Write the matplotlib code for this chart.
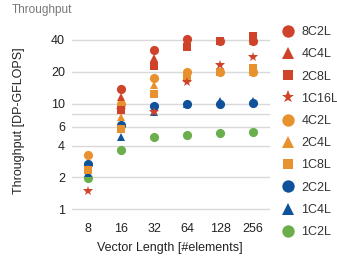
import numpy as np
import matplotlib.pyplot as plt

plt.rcParams['font.family'] = ['Liberation Sans', 'DejaVu Sans']

# --- data ---
vec_len = [8, 16, 32, 64, 128, 256]
nan = np.nan
series = {
    '8C2L':  [nan, 13.7, 32.0, 40.8, 39.5, 39.5],
    '4C4L':  [nan, 11.5, 26.8, 40.0, 39.5, 39.5],
    '2C8L':  [nan, 8.6, 22.8, 34.5, 39.5, 43.6],
    '1C16L': [1.47, 8.7, 8.4, 15.9, 23.2, 27.8],
    '4C2L':  [3.25, 9.9, 17.6, 20.0, 19.8, 20.0],
    '2C4L':  [2.4, 7.5, 15.0, 20.0, 19.8, 20.0],
    '1C8L':  [2.35, 5.8, 12.2, 17.3, 19.8, 21.6],
    '2C2L':  [2.65, 6.2, 9.5, 10.0, 10.0, 10.2],
    '1C4L':  [2.2, 4.8, 8.4, 10.0, 10.5, 10.6],
    '1C2L':  [1.97, 3.64, 4.86, 5.05, 5.24, 5.42],
}
y_ticks = [1, 2, 4, 6, 8, 10, 20, 40]
y_tick_labels = ['1', '2', '4', '6', '', '10', '20', '40']

red, orange, blue, green = '#d0432b', '#e8922f', '#10529a', '#6aaf4c'
styles = {
    '8C2L': (red, 'o', 6.6), '4C4L': (red, '^', 6.2), '2C8L': (red, 's', 5.2),
    '1C16L': (red, '*', 7.2), '4C2L': (orange, 'o', 6.6), '2C4L': (orange, '^', 6.2),
    '1C8L': (orange, 's', 5.2), '2C2L': (blue, 'o', 6.6), '1C4L': (blue, '^', 6.2),
    '1C2L': (green, 'o', 6.6),
}

fig = plt.figure(figsize=(3.37, 2.65), dpi=100)
ax = fig.add_axes([0.2136, 0.1887, 0.5875, 0.698])

# first legend entry sits on top of the others
n = len(series)
for i, (name, vals) in enumerate(series.items()):
    c, m, ms = styles[name]
    ax.plot(vec_len, vals, linestyle='none', marker=m, color=c,
            markersize=ms, markeredgewidth=0, label=name, zorder=3 + n - i)

ax.set_xscale('log', base=2)
ax.set_yscale('log')
ax.set_xlim(5.7, 365)
ax.set_ylim(0.88, 49.7)
ax.set_xticks(vec_len)
ax.set_xticklabels([str(v) for v in vec_len])
ax.set_yticks(y_ticks)
ax.set_yticklabels(y_tick_labels)
ax.minorticks_off()
ax.tick_params(length=0, labelsize=9, colors='#222222', pad=5)
ax.tick_params(axis='x', pad=6)
ax.grid(True, axis='y', color='#d9d9d9', linewidth=1)
ax.set_axisbelow(True)
for s in ax.spines.values():
    s.set_visible(False)

fig.text(12 / 337, 1 - 4 / 265, 'Throughput', fontsize=8.5, color='#777777',
         ha='left', va='top')
fig.text(19 / 337, 1 - 121 / 265, 'Throughput [DP-GFLOPS]', fontsize=9,
         color='#222222', rotation=90, ha='center', va='center')
fig.text(170 / 337, 1 - 248 / 265, 'Vector Length [#elements]', fontsize=9,
         color='#222222', ha='center', va='center')

leg = ax.legend(loc='upper left', bbox_to_anchor=(282 / 337, 1 - 26 / 265),
                bbox_transform=fig.transFigure, frameon=False, fontsize=9,
                markerscale=1.35, handlelength=1.0, handletextpad=0.55,
                labelspacing=0.82, borderaxespad=0, borderpad=0)
for t in leg.get_texts():
    t.set_color('#333333')

fig.savefig('out.png', dpi=100)
